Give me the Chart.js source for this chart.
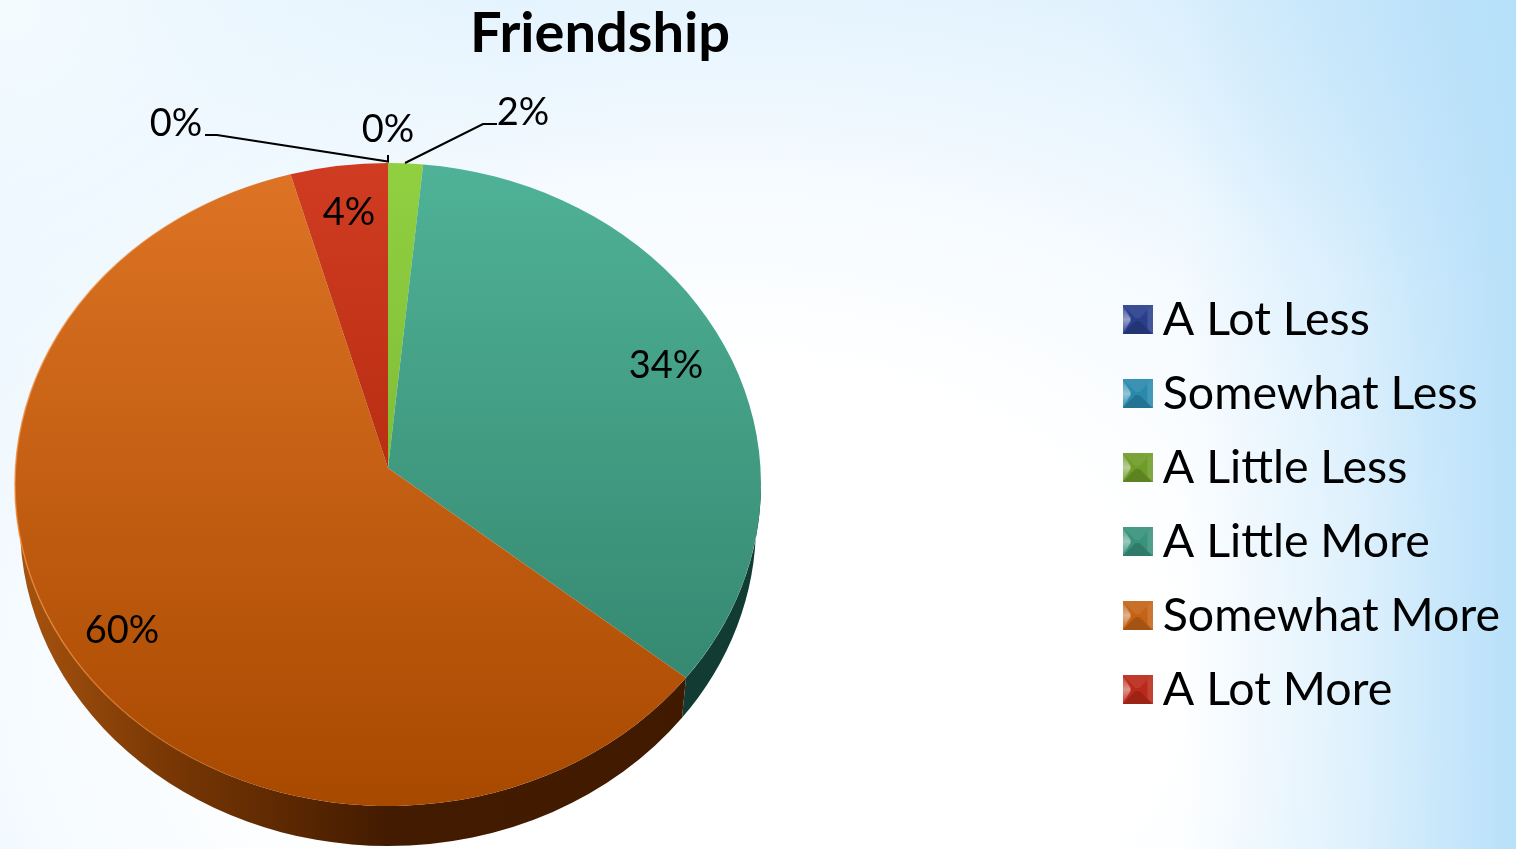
<!DOCTYPE html>
<html><head><meta charset="utf-8">
<script src="https://cdn.jsdelivr.net/npm/chart.js@4"></script>
<style>
html,body{margin:0;padding:0;width:1516px;height:849px;overflow:hidden}
body{background:
 radial-gradient(circle 520px at 0px 0px,rgba(246,252,255,.95),rgba(246,252,255,0)),
 radial-gradient(ellipse 420px 300px at 1516px 0px,rgba(181,223,249,.55),rgba(181,223,249,0)),
 linear-gradient(90deg,rgba(181,223,249,0) 78%,rgba(181,223,249,.35) 89%,rgba(181,223,249,.95) 100%),
 radial-gradient(ellipse 1150px 820px at 720px 680px,#ffffff 38%,#f6fbff 60%,#e6f4fe 82%,#d4ecfc 110%);}
canvas{display:block}
</style></head><body>
<canvas id="c" width="1516" height="849"></canvas>
<script>
const chartTitle = 'Friendship';
const categories = ['A Lot Less','Somewhat Less','A Little Less','A Little More','Somewhat More','A Lot More'];
const shareValues = [0,0,1.5,33.7,60.4,4.2];
const legendBase = ['#2a3f8c','#2a8aae','#6f9c28','#38927c','#c46316','#ba2a1a'];
const sliceTop = ['#3a50a8','#3aa0c8','#90d040','#4fb296','#de7425','#d03c22'];
const sliceBottom = ['#22367a','#1f7898','#70a830','#2f7f68','#a84900','#a01e00'];
const sideDark = ['#101c40','#0f3c4c','#304a10','#123c33','#401a00','#4a1000'];
const labelSpots = [[176,124],[388,130],[523,113],[666,366],[122,631],[349,213]];

const geom = {left:15,right:761,top:163,bottom:806,apexY:468,depth:40,bottomInset:5};

function icon(col){
  const c=document.createElement('canvas');c.width=30;c.height=29;
  const x=c.getContext('2d'),w=30,h=29,b=13;
  const tri=(pts,fill,alpha)=>{x.globalAlpha=alpha;x.fillStyle=fill;x.beginPath();pts.forEach((p,i)=>i?x.lineTo(p[0],p[1]):x.moveTo(p[0],p[1]));x.closePath();x.fill();x.globalAlpha=1;};
  x.fillStyle=col;x.fillRect(0,0,w,h);
  tri([[0,0],[w,0],[w-b,b],[b,b]],'#fff',.08);
  tri([[0,h],[w,h],[w-b,h-b],[b,h-b]],'#000',.16);
  const g=x.createLinearGradient(0,0,0,h);
  g.addColorStop(0,'rgba(255,255,255,.08)');g.addColorStop(.5,'rgba(255,255,255,.5)');g.addColorStop(1,'rgba(255,255,255,.05)');
  tri([[0,0],[8,b],[8,h-b],[0,h]],g,1);
  tri([[w,0],[w-5,5],[w-5,h-5],[w,h]],'#fff',.12);
  return c;
}
const icons = legendBase.map(icon);

const pie3d = {
  id:'pie3d',
  afterLayout(chart){
    const a=chart.chartArea;
    a.left=geom.left;a.right=geom.right;a.top=geom.top;a.bottom=geom.bottom;
    a.width=a.right-a.left;a.height=a.bottom-a.top;
    const lg=chart.legend;
    lg.left=1108;lg.right=lg.left+lg.width;lg.top=80;lg.bottom=lg.top+lg.height;
    const t=chart.titleBlock;
    t.left=0;t.right=1200;t.top=0;
  },
  beforeDatasetsDraw(chart){
    const ctx=chart.ctx, arcs=chart.getDatasetMeta(0).data;
    const e0=arcs[0], cx=e0.x, cy=e0.y, ry=e0.outerRadius;
    const rx=ry*(geom.right-geom.left)/(geom.bottom-geom.top);
    const d=geom.depth, rb=rx-geom.bottomInset, ryb=ry;
    arcs.forEach((el,i)=>{
      const s=Math.max(el.startAngle,0), e=Math.min(el.endAngle,Math.PI);
      if(e<=s) return;
      const g=ctx.createLinearGradient(geom.left,0,geom.right,0);
      if(i===4){g.addColorStop(0,'#a8540f');g.addColorStop(.2,'#7a3804');g.addColorStop(.5,'#431b00');g.addColorStop(1,'#401a00');}
      else{g.addColorStop(0,sideDark[i]);g.addColorStop(1,sideDark[i]);}
      ctx.beginPath();
      ctx.ellipse(cx,cy,rx,ry,0,s,e,false);
      ctx.ellipse(cx,cy+d,rb,ryb,0,e,s,true);
      ctx.closePath();
      ctx.fillStyle=g;ctx.fill();
    });
    arcs.forEach((el,i)=>{
      if(el.endAngle-el.startAngle<=0) return;
      const g=ctx.createLinearGradient(0,geom.top,0,geom.bottom);
      g.addColorStop(0,sliceTop[i]);g.addColorStop(1,sliceBottom[i]);
      ctx.beginPath();
      ctx.moveTo(cx,geom.apexY);
      ctx.ellipse(cx,cy,rx,ry,0,el.startAngle,el.endAngle,false);
      ctx.closePath();
      ctx.fillStyle=g;ctx.fill();
    });
    const big=arcs[4];
    const rim=ctx.createLinearGradient(geom.left,0,260,0);
    rim.addColorStop(0,'rgba(240,140,60,.8)');rim.addColorStop(1,'rgba(240,140,60,0)');
    ctx.beginPath();
    ctx.ellipse(cx,cy,rx,ry,0,Math.max(big.startAngle,2.0),big.endAngle,false);
    ctx.strokeStyle=rim;ctx.lineWidth=1.5;ctx.stroke();
    return false;
  },
  afterDraw(chart){
    const ctx=chart.ctx;
    ctx.save();
    ctx.strokeStyle='#000';ctx.lineWidth=2;
    ctx.beginPath();ctx.moveTo(205,135);ctx.lineTo(217,135);ctx.lineTo(388,161.5);ctx.lineTo(388,155);ctx.stroke();
    ctx.beginPath();ctx.moveTo(405,163);ctx.lineTo(483,124);ctx.lineTo(497,124);ctx.stroke();
    ctx.fillStyle='#000';ctx.textAlign='center';ctx.textBaseline='middle';
    ctx.font='38px Lato';
    shareValues.forEach((v,i)=>ctx.fillText(Math.round(v)+'%',labelSpots[i][0],labelSpots[i][1]));
    ctx.restore();
  }
};

new Chart(document.getElementById('c'),{
  type:'pie',
  data:{labels:categories,datasets:[{data:shareValues,backgroundColor:legendBase,borderWidth:0}]},
  plugins:[pie3d],
  options:{
    responsive:false,animation:false,
    layout:{padding:0},
    plugins:{
      tooltip:{enabled:false},
      title:{display:true,text:chartTitle,color:'#000',font:{family:'Lato',size:56,weight:'bold'},padding:{top:0,bottom:0}},
      legend:{display:true,position:'right',
        labels:{color:'#000',font:{family:'Lato',size:46.5},padding:27.5,boxWidth:30,boxHeight:29,pointStyleWidth:4,usePointStyle:true,
          generateLabels(chart){return categories.map((t,i)=>({text:t,fillStyle:legendBase[i],strokeStyle:legendBase[i],lineWidth:0,pointStyle:icons[i],index:i,hidden:false}));}
        }
      }
    }
  }
});
</script>
</body></html>
